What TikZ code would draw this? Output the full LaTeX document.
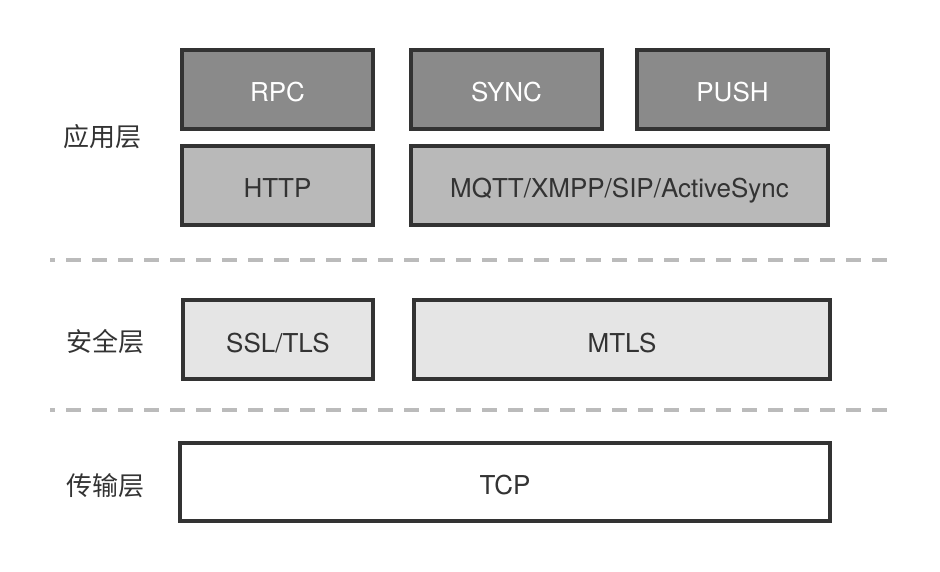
\documentclass[tikz,border=0pt]{standalone}
\usepackage{fontspec}
\setmainfont{TeX Gyre Heros}
\newfontfamily\cjk{Noto Sans CJK SC}
\definecolor{edgegray}{HTML}{333333}
\definecolor{darkfill}{HTML}{8A8A8A}
\definecolor{midfill}{HTML}{B9B9B9}
\definecolor{lightfill}{HTML}{E5E5E5}
\definecolor{dashgray}{HTML}{BBBBBB}
\tikzset{
  layerbox/.style={draw=edgegray, line width=4pt, minimum height=79pt,
    inner sep=0pt, text height=25pt, text depth=0pt,
    font=\fontsize{26}{30}\selectfont, text=edgegray},
  topbox/.style={layerbox, fill=darkfill, text=white},
  protobox/.style={layerbox, fill=midfill},
  securebox/.style={layerbox, fill=lightfill},
  layername/.style={font=\cjk\fontsize{26}{30}\selectfont, text=edgegray},
  divider/.style={draw=dashgray, line width=3.5pt, dash pattern=on 15pt off 11pt, dash phase=10pt}
}
\begin{document}
\begin{tikzpicture}[x=1pt, y=-1pt]
            \useasboundingbox (0,0) rectangle (940,572);

            % Application layer
            \node[topbox, minimum width=191pt] (rpc) at (277.5,89.5) {RPC};
            \node[topbox, minimum width=191pt] (sync) at (506.5,89.5) {SYNC};
            \node[topbox, minimum width=191pt] (push) at (732.5,89.5) {PUSH};
            \node[protobox, minimum width=191pt] (http) at (277.5,185.5) {HTTP};
            \node[protobox, minimum width=417pt] (mqtt) at (619.5,185.5) {MQTT/XMPP/SIP/ActiveSync};

            % Security layer
            \node[securebox, minimum width=190pt] (ssl) at (278,339.5) {SSL/TLS};
            \node[securebox, minimum width=416pt] (mtls) at (622,339.5) {MTLS};

            % Transport layer
            \node[layerbox, fill=white, minimum width=650pt, minimum height=78pt] (tcp) at (505,482) {TCP};

            % Layer names
            \node[layername] (app) at (102,137) {应用层};
            \node[layername] (sec) at (105,342) {安全层};
            \node[layername] (trans) at (105,486) {传输层};

            % Dividers
            \coordinate (d1a) at (50,260);
            \coordinate (d1b) at (890,260);
            \coordinate (d2a) at (50,410);
            \coordinate (d2b) at (890,410);
            \draw[divider] (d1a) -- (d1b);
            \draw[divider] (d2a) -- (d2b);
        \end{tikzpicture}
\end{document}
